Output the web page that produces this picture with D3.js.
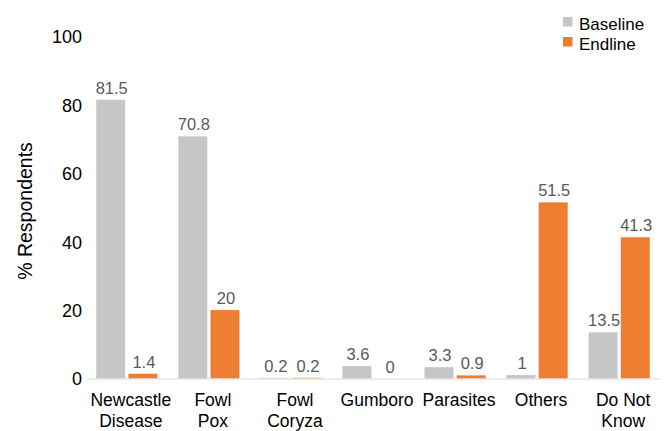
<!DOCTYPE html>
<html>
<head>
<meta charset="utf-8">
<script src="https://cdn.jsdelivr.net/npm/d3@7"></script>
<style>
  body { margin: 0; background: #fff; }
  svg text { font-family: "Liberation Sans", Arial, sans-serif; }
</style>
</head>
<body>
<svg id="chart" width="670" height="431"></svg>
<script>
// Disease categories (two-line labels) and the share of respondents per survey round
const categories = [
  ["Newcastle", "Disease"],
  ["Fowl", "Pox"],
  ["Fowl", "Coryza"],
  ["Gumboro"],
  ["Parasites"],
  ["Others"],
  ["Do Not", "Know"]
];
const baseline = [81.5, 70.8, 0.2, 3.6, 3.3, 1, 13.5];
const endline  = [1.4, 20, 0.2, 0, 0.9, 51.5, 41.3];
const seriesNames = ["Baseline", "Endline"];
const yTicks = [0, 20, 40, 60, 80, 100];

const colors = { Baseline: "#c6c6c6", Endline: "#ed7d31" };

const svg = d3.select("#chart");
const margin = { left: 86, top: 36.5 };
const plotBottom = 378.5;

const keys = categories.map(c => c.join(" "));

const x = d3.scaleBand()
  .domain(keys)
  .range([margin.left, 660])
  .paddingInner(0.255)
  .paddingOuter(0.125);

const xSub = d3.scaleBand()
  .domain(seriesNames)
  .range([0, x.bandwidth()])
  .paddingInner(0.1);

const y = d3.scaleLinear()
  .domain([0, 100])
  .range([plotBottom, margin.top]);

const rows = keys.map((k, i) => ({
  key: k,
  values: [
    { name: "Baseline", v: baseline[i] },
    { name: "Endline", v: endline[i] }
  ]
}));

// Bars
const groups = svg.append("g").selectAll("g")
  .data(rows).join("g")
  .attr("transform", d => `translate(${x(d.key)},0)`);

groups.selectAll("rect")
  .data(d => d.values).join("rect")
  .attr("x", d => xSub(d.name))
  .attr("width", xSub.bandwidth())
  .attr("y", d => y(d.v))
  .attr("height", d => plotBottom - y(d.v))
  .attr("fill", d => colors[d.name]);

// Value labels above bars
groups.selectAll("text.val")
  .data(d => d.values).join("text")
  .attr("class", "val")
  .attr("x", d => xSub(d.name) + xSub.bandwidth() / 2 + 1)
  .attr("y", d => y(d.v) - 6)
  .attr("text-anchor", "middle")
  .attr("font-size", 16.5)
  .attr("fill", "#595959")
  .text(d => d.v);

// Y axis (labels only)
const yAxis = d3.axisLeft(y).tickValues(yTicks).tickSize(0).tickPadding(0);
const yg = svg.append("g")
  .attr("transform", `translate(82,0)`)
  .call(yAxis);
yg.select(".domain").remove();
yg.selectAll("text")
  .attr("font-size", 18)
  .attr("fill", "#000")
  .attr("dy", "0.36em")
  .style("font-family", "'Liberation Sans', Arial, sans-serif");

// X axis line and two-line category labels
const xAxis = d3.axisBottom(x).tickSize(0).tickFormat("");
const xg = svg.append("g")
  .attr("transform", `translate(0,${plotBottom})`)
  .call(xAxis);
xg.select(".domain")
  .attr("stroke", "#d9d9d9")
  .attr("stroke-width", 1);

xg.selectAll(".tick").each(function(d, i) {
  const t = d3.select(this).append("text")
    .attr("text-anchor", "middle")
    .attr("font-size", 17.5)
    .attr("fill", "#000")
    .style("font-family", "'Liberation Sans', Arial, sans-serif");
  categories[i].forEach((line, j) => {
    t.append("tspan")
      .attr("x", 4)
      .attr("y", 27.5 + j * 21)
      .text(line);
  });
});

// Y axis title
svg.append("text")
  .attr("transform", `translate(31.5,211) rotate(-90)`)
  .attr("text-anchor", "middle")
  .attr("font-size", 19.5)
  .attr("fill", "#000")
  .text("% Respondents");

// Legend
const legend = svg.append("g").attr("transform", "translate(563,17)");
seriesNames.forEach((name, i) => {
  const g = legend.append("g").attr("transform", `translate(0,${i * 20})`);
  g.append("rect").attr("width", 9.5).attr("height", 9.5).attr("fill", colors[name]);
  g.append("text")
    .attr("x", 16).attr("y", 13)
    .attr("font-size", 17)
    .attr("fill", "#000")
    .text(name);
});
</script>
</body>
</html>
